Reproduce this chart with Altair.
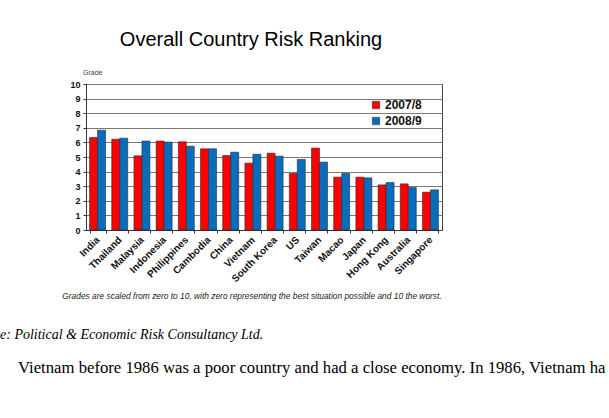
import altair as alt
import pandas as pd

# Country risk grades (0 = best, 10 = worst)
countries = ["India", "Thailand", "Malaysia", "Indonesia", "Philippines", "Cambodia",
             "China", "Vietnam", "South Korea", "US", "Taiwan", "Macao", "Japan",
             "Hong Kong", "Australia", "Singapore"]
grade_2007 = [6.34, 6.22, 5.08, 6.09, 6.04, 5.56, 5.10, 4.58, 5.26, 3.87, 5.61,
              3.62, 3.62, 3.09, 3.16, 2.59]
grade_2008 = [6.84, 6.29, 6.09, 6.02, 5.74, 5.56, 5.33, 5.19, 5.06, 4.83, 4.65,
              3.87, 3.57, 3.25, 2.91, 2.75]
periods = ["2007/8", "2008/9"]
y_ticks = list(range(0, 11))

title_text = "Overall Country Risk Ranking"
note_text = ("Grades are scaled from zero to 10, with zero representing the best "
             "situation possible and 10 the worst.")
source_text = "e: Political & Economic Risk Consultancy Ltd."
body_text = ("Vietnam before 1986 was a poor country and had a close economy. "
             "In 1986, Vietnam ha")

rows = []
for c, a, b in zip(countries, grade_2007, grade_2008):
    rows.append({"country": c, "period": periods[0], "grade": a})
    rows.append({"country": c, "period": periods[1], "grade": b})
df = pd.DataFrame(rows)

SANS = "Liberation Sans"
SERIF = "Liberation Serif"

bars = alt.Chart(df).mark_bar(stroke="#2a2a2a", strokeWidth=0.6).encode(
    x=alt.X("country:N", sort=countries, title=None,
            scale=alt.Scale(paddingInner=0.28, paddingOuter=0.16),
            axis=alt.Axis(labelAngle=-45, labelAlign="right", labelBaseline="middle",
                          labelFont=SANS, labelFontSize=10, labelFontWeight="bold",
                          labelColor="#111", labelPadding=5, tickBand="extent",
                          tickSize=3, tickColor="#333", domainColor="#333",
                          grid=False)),
    xOffset=alt.XOffset("period:N", sort=periods),
    y=alt.Y("grade:Q", title=None,
            scale=alt.Scale(domain=[0, 10], nice=False),
            axis=alt.Axis(values=y_ticks, labelFont=SANS, labelFontSize=9,
                          labelFontWeight="bold", labelColor="#111", labelPadding=3,
                          tickSize=3, tickColor="#333", domainColor="#333",
                          grid=True, gridColor="#7a7a7a", gridWidth=1)),
    color=alt.Color("period:N", sort=periods,
                    scale=alt.Scale(domain=periods, range=["#ff0000", "#0a6cbf"]),
                    legend=alt.Legend(title=None, orient="none", legendX=284, legendY=15,
                                      symbolType="square", symbolSize=55,
                                      symbolStrokeColor="#2a2a2a", symbolStrokeWidth=0.5,
                                      labelFont=SANS, labelFontSize=12,
                                      labelFontWeight="bold", labelColor="#111",
                                      rowPadding=4, labelOffset=3)),
)

def label(text, x, y, size, font=SANS, style="normal", weight="normal",
          align="center", color="#111"):
    return alt.Chart(pd.DataFrame({"t": [text]})).mark_text(
        font=font, fontSize=size, fontStyle=style, fontWeight=weight,
        align=align, baseline="middle", color=color,
    ).encode(text="t:N", x=alt.value(x), y=alt.value(y))

chart = alt.layer(
    bars,
    label(title_text, 165, -44, 20, color="#000"),
    label("Grade", -3, -11, 7, align="left", color="#444"),
    label(note_text, 166, 212, 8.4, style="italic", color="#222"),
    label(source_text, -86, 251, 14, font=SERIF, style="italic", align="left", color="#000"),
    label(body_text, -68, 284, 16.7, font=SERIF, align="left", color="#000"),
).properties(
    width=356, height=146,
    autosize=alt.AutoSizeParams(type="none"),
    padding={"left": 86, "top": 84, "right": 167, "bottom": 188},
    background="white",
).configure_view(stroke="#444", strokeWidth=1)

chart.save("out.html", embed_options={"renderer": "svg", "actions": False})
